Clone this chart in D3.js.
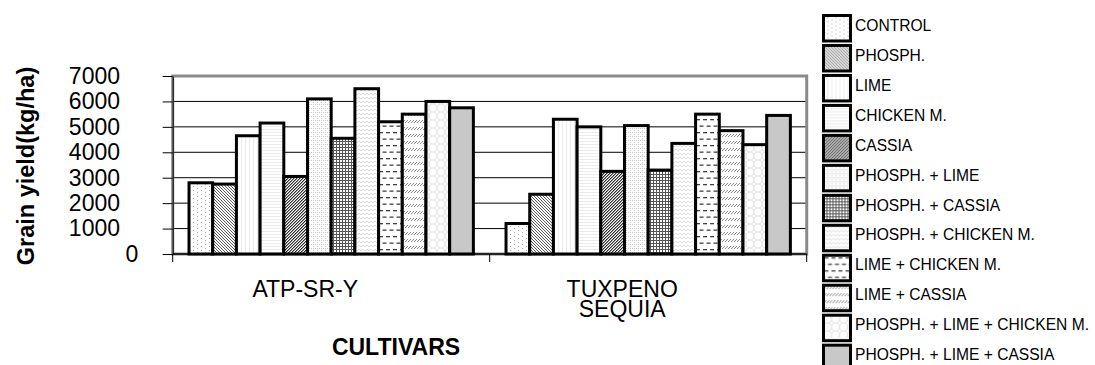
<!DOCTYPE html>
<html>
<head>
<meta charset="utf-8">
<script src="https://cdn.jsdelivr.net/npm/d3@7"></script>
<style>
  html, body { margin: 0; padding: 0; background: #fff; }
  svg { display: block; font-family: "Liberation Sans", Arial, sans-serif; }
</style>
</head>
<body>
<svg id="chart" width="1095" height="365"></svg>
<script>
// Grain yield per cultivar and soil-amendment treatment (kg/ha)
const cultivars = ["ATP-SR-Y", "TUXPENO SEQUIA"];
const treatments = [
  "CONTROL", "PHOSPH.", "LIME", "CHICKEN M.", "CASSIA", "PHOSPH. + LIME",
  "PHOSPH. + CASSIA", "PHOSPH. + CHICKEN M.", "LIME + CHICKEN M.",
  "LIME + CASSIA", "PHOSPH. + LIME + CHICKEN M.", "PHOSPH. + LIME + CASSIA"
];
const atpYield      = [2800, 2750, 4650, 5150, 3050, 6100, 4550, 6500, 5200, 5500, 6000, 5750];
const tuxpenoYield  = [1200, 2350, 5300, 5000, 3250, 5050, 3300, 4350, 5500, 4850, 4300, 5450];
const yieldTicks    = [0, 1000, 2000, 3000, 4000, 5000, 6000, 7000];

const yieldByCultivar = [atpYield, tuxpenoYield];
const rows = cultivars.map((c, ci) => ({
  cultivar: c,
  values: treatments.map((t, ti) => ({ treatment: t, idx: ti, value: yieldByCultivar[ci][ti] }))
}));

const svg = d3.select("#chart");
const plot = { left: 172.7, right: 806.7, top: 76, bottom: 254 };

const x0 = d3.scaleBand().domain(cultivars)
  .range([plot.left, plot.right]).paddingInner(0.103).paddingOuter(0.0515);
const x1 = d3.scaleBand().domain(d3.range(treatments.length))
  .range([0, x0.bandwidth()]).padding(0);
const y = d3.scaleLinear().domain([0, 7000]).range([plot.bottom, plot.top]);

// ---------- fill patterns ----------
const defs = svg.append("defs");
function pattern(id, w, h, draw) {
  const p = defs.append("pattern").attr("id", id)
    .attr("patternUnits", "userSpaceOnUse").attr("width", w).attr("height", h);
  p.append("rect").attr("width", w).attr("height", h).attr("fill", "#fff");
  draw(p);
}
function px(p, xx, yy, c, w = 1, h = 1) {
  p.append("rect").attr("x", xx).attr("y", yy).attr("width", w).attr("height", h).attr("fill", c);
}

pattern("f0", 8, 4, p => { px(p, 0, 0, "#a8a8a8"); px(p, 4, 2, "#a8a8a8"); });
pattern("f1", 3, 3, p => {
  for (let a = 0; a < 3; a++) for (let b = 0; b < 3; b++)
    if (((a - b + 3) % 3) === 0) px(p, a, b, "#5a5a5a");
});
pattern("f2", 4, 4, p => { px(p, 0, 0, "#ebebeb", 1, 4); });
pattern("f3", 4, 3, p => { px(p, 0, 0, "#ebebeb", 4, 1); });
pattern("f4", 3, 3, p => {
  for (let a = 0; a < 3; a++) for (let b = 0; b < 3; b++)
    if (((a + b) % 3) === 0) px(p, a, b, "#2a2a2a");
    else if (((a + b) % 3) === 1) px(p, a, b, "#9a9a9a");
});
pattern("f5", 4, 4, p => {
  px(p, 0, 0, "#c8c8c8"); px(p, 2, 0, "#c8c8c8"); px(p, 0, 2, "#c8c8c8");
});
pattern("f6", 3, 3, p => { px(p, 0, 0, "#555", 3, 1); px(p, 0, 0, "#555", 1, 3); });
pattern("f7", 8, 4, p => {
  p.append("path").attr("d", "M0,3 L2,1 L4,3 L6,1 L8,3").attr("fill", "none")
    .attr("stroke", "#dedede").attr("stroke-width", 1);
});
pattern("f8", 7, 13, p => {
  px(p, 1, 2, "#404040", 4, 1.3);
  px(p, 4.5, 8.5, "#404040", 4, 1.3);
  px(p, -2.5, 8.5, "#404040", 4, 1.3);
});
pattern("f9", 3, 7, p => {
  p.append("path").attr("d", "M0,4 L3,1").attr("stroke", "#8a8a8a").attr("stroke-width", 1);
});
pattern("f10", 8, 8, p => {
  p.append("circle").attr("cx", 4).attr("cy", 4).attr("r", 4).attr("fill", "none")
    .attr("stroke", "#e6e6e6").attr("stroke-width", 1);
});
pattern("f11", 4, 4, p => { px(p, 0, 0, "#c8c8c8", 4, 4); });

const fillFor = i => `url(#f${i})`;

// ---------- gridlines ----------
svg.append("g").selectAll("line")
  .data(yieldTicks.filter(v => v > 0 && v < 7000))
  .join("line")
  .attr("x1", plot.left).attr("x2", plot.right)
  .attr("y1", d => y(d)).attr("y2", d => y(d))
  .attr("stroke", "#000").attr("stroke-width", 1);

// ---------- plot area frame ----------
svg.append("rect")
  .attr("x", plot.left).attr("y", plot.top)
  .attr("width", plot.right - plot.left).attr("height", plot.bottom - plot.top)
  .attr("fill", "none").attr("stroke", "#8a8a8a").attr("stroke-width", 3);

// ---------- bars ----------
const groups = svg.append("g").selectAll("g")
  .data(rows).join("g")
  .attr("transform", d => `translate(${x0(d.cultivar)},0)`);
groups.selectAll("rect")
  .data(d => d.values).join("rect")
  .attr("x", d => x1(d.idx))
  .attr("width", x1.bandwidth())
  .attr("y", d => y(d.value))
  .attr("height", d => y(0) - y(d.value))
  .attr("fill", d => fillFor(d.idx))
  .attr("stroke", "#000").attr("stroke-width", 3);

// ---------- y axis ----------
const yAxis = svg.append("g")
  .attr("transform", `translate(${plot.left},0)`)
  .call(d3.axisLeft(y).tickValues(yieldTicks).tickFormat(d3.format("d"))
    .tickSizeInner(10).tickSizeOuter(0).tickPadding(42.7));
yAxis.select(".domain").attr("stroke", "#000").attr("stroke-width", 1);
yAxis.selectAll(".tick line").attr("stroke", "#000");
yAxis.selectAll(".tick text")
  .attr("font-size", 23).attr("fill", "#000")
  .attr("font-family", "'Liberation Sans', Arial, sans-serif")
  .attr("x", d => d === 0 ? -34.5 : -52.7);

// ---------- x axis ----------
const xAxis = svg.append("g").attr("transform", `translate(0,${plot.bottom})`);
xAxis.append("line").attr("x1", plot.left).attr("x2", plot.right)
  .attr("stroke", "#000").attr("stroke-width", 1.5);
const bounds = [plot.left, ...cultivars.slice(1).map(c => x0(c) - x0.step() * x0.paddingInner() / 2), plot.right];
xAxis.selectAll(".xtick").data(bounds).join("line")
  .attr("class", "xtick")
  .attr("x1", d => d).attr("x2", d => d).attr("y1", 0).attr("y2", 8)
  .attr("stroke", "#000").attr("stroke-width", 1);

// cultivar labels (wrapped onto lines)
const catLabels = svg.append("g").selectAll("text")
  .data(cultivars).join("text")
  .attr("x", d => x0(d) + x0.bandwidth() / 2 - 26)
  .attr("y", 296.7)
  .attr("text-anchor", "middle")
  .attr("font-size", 23).attr("fill", "#000");
catLabels.each(function(d) {
  const words = d.split(" ");
  const t = d3.select(this);
  words.forEach((w, i) => {
    t.append("tspan").attr("x", t.attr("x")).attr("dy", i === 0 ? 0 : 20).text(w);
  });
});

// axis titles
svg.append("text")
  .attr("x", 396).attr("y", 355)
  .attr("text-anchor", "middle")
  .attr("font-size", 23).attr("font-weight", "bold").attr("fill", "#000")
  .text("CULTIVARS");

svg.append("text")
  .attr("transform", "translate(34,166) rotate(-90)")
  .attr("text-anchor", "middle")
  .attr("font-size", 23.5).attr("font-weight", "bold").attr("fill", "#000")
  .text("Grain yield(kg/ha)");

// ---------- legend ----------
const legend = svg.append("g").attr("transform", "translate(823.5,15.5)");
const items = legend.selectAll("g").data(treatments).join("g")
  .attr("transform", (d, i) => `translate(0,${i * 29.97})`);
items.append("rect")
  .attr("width", 27).attr("height", 25.5)
  .attr("fill", (d, i) => fillFor(i))
  .attr("stroke", "#000").attr("stroke-width", 3);
items.append("text")
  .attr("x", 31.5).attr("y", 15.2)
  .attr("font-size", 15.6).attr("fill", "#000")
  .text(d => d);
</script>
</body>
</html>
